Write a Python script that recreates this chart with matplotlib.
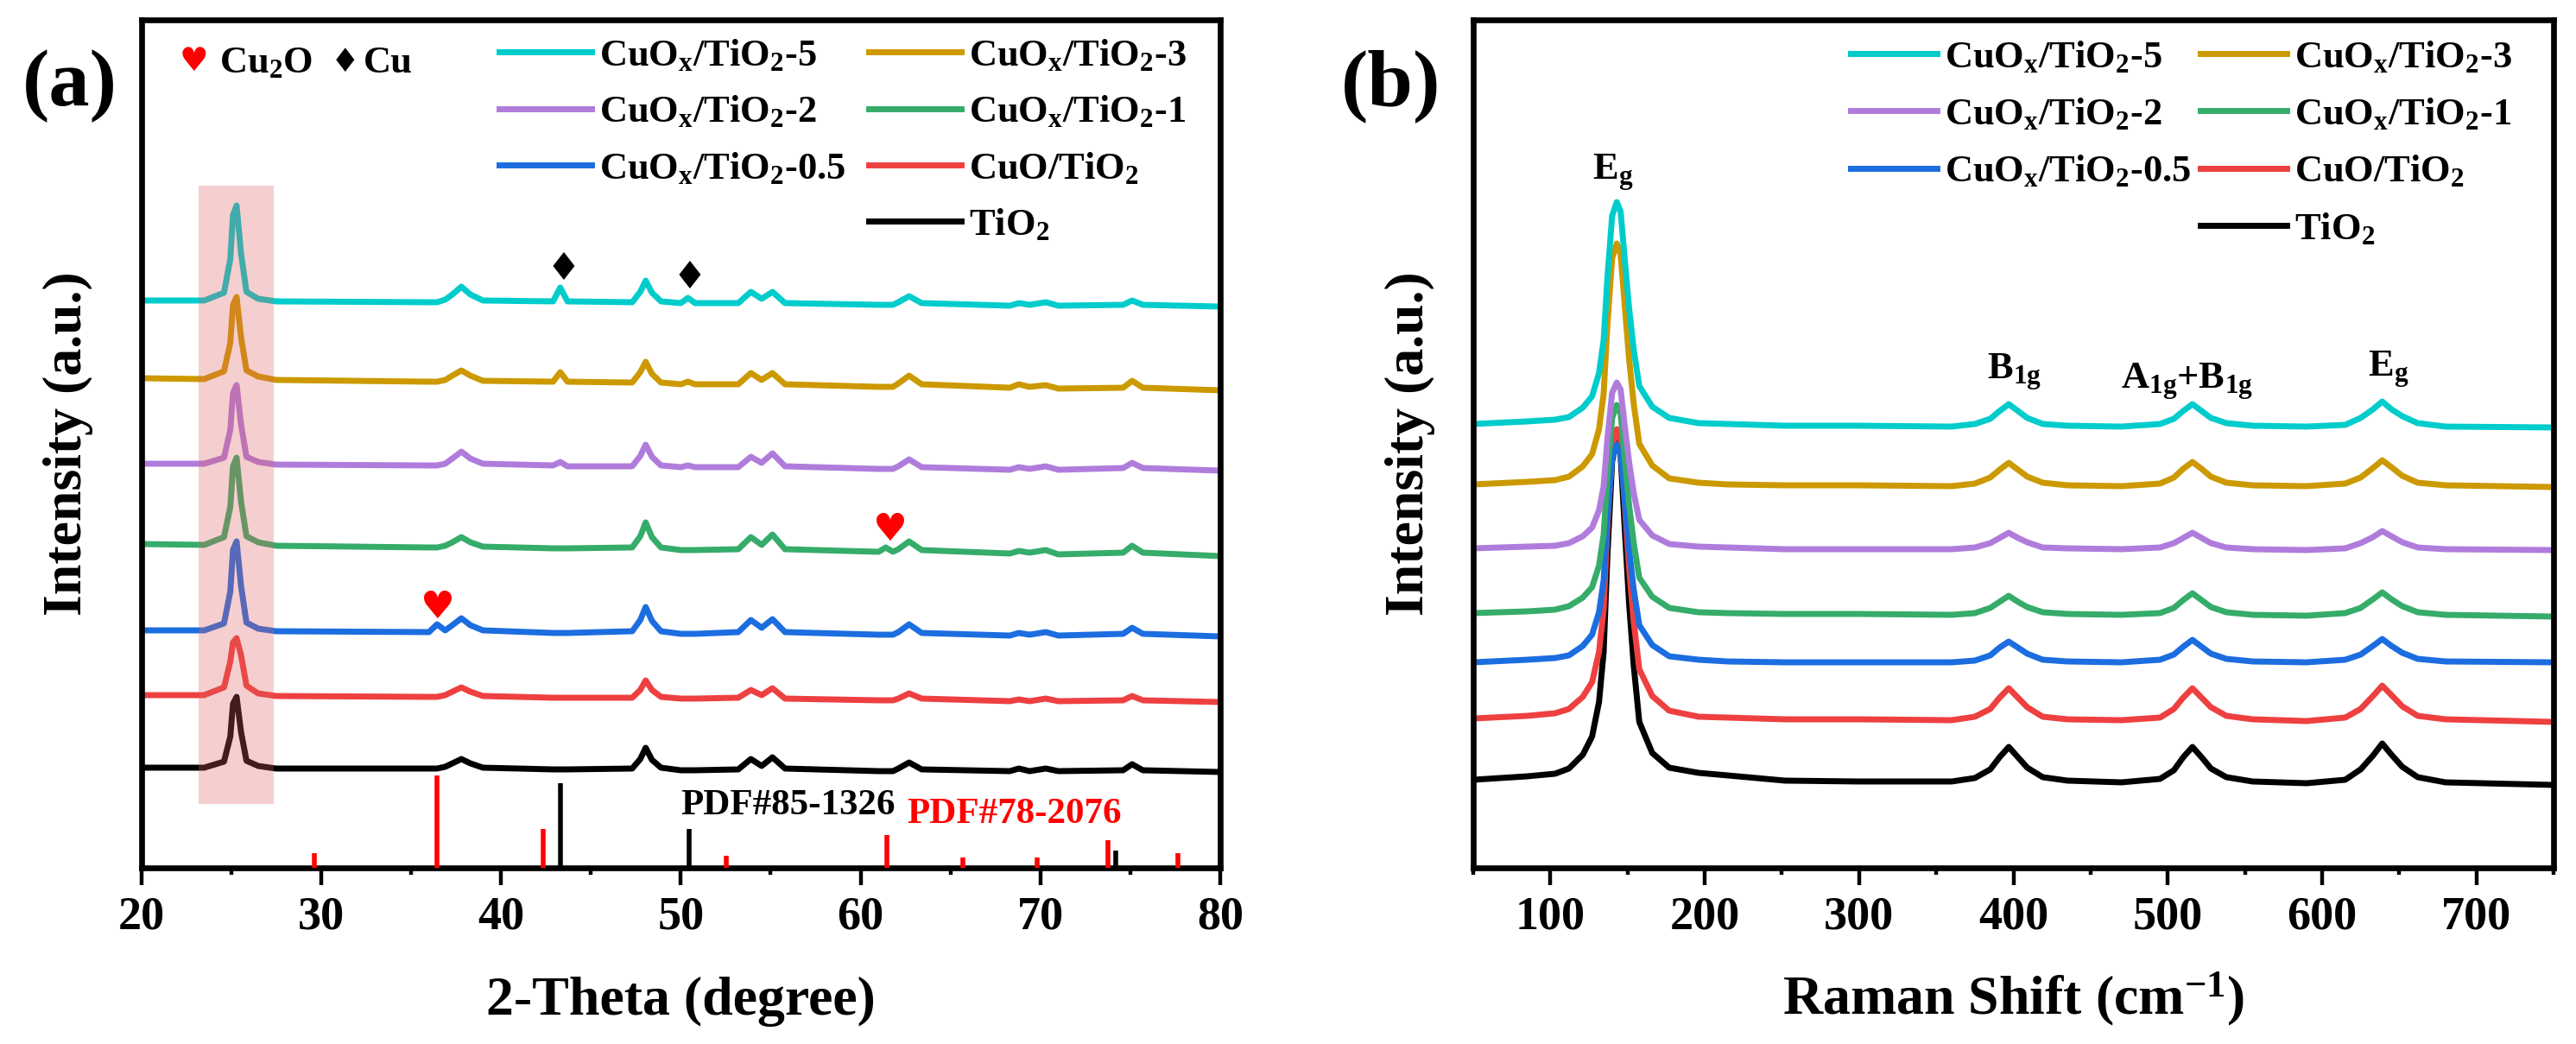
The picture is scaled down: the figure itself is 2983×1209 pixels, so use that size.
import matplotlib
matplotlib.use('Agg')
import matplotlib.pyplot as plt
from matplotlib.ticker import MultipleLocator
from matplotlib.patches import Rectangle
from matplotlib.lines import Line2D

plt.rcParams['font.family'] = ['Liberation Serif', 'DejaVu Sans']
plt.rcParams['font.weight'] = 'bold'
plt.rcParams['mathtext.fontset'] = 'custom'
plt.rcParams['mathtext.rm'] = 'Liberation Serif:bold'
plt.rcParams['mathtext.it'] = 'Liberation Serif:italic:bold'
plt.rcParams['mathtext.bf'] = 'Liberation Serif:bold'

# ---------------- data ----------------
labels = [r'$\mathrm{CuO_x/TiO_2}$-5', r'$\mathrm{CuO_x/TiO_2}$-3', r'$\mathrm{CuO_x/TiO_2}$-2',
          r'$\mathrm{CuO_x/TiO_2}$-1', r'$\mathrm{CuO_x/TiO_2}$-0.5', r'$\mathrm{CuO/TiO_2}$',
          r'$\mathrm{TiO_2}$']
colors = ['#00CCCC', '#CC9900', '#B07CDC', '#36AC6A', '#1C6DDF', '#EE4040', '#000000']

# XRD (2-theta, degree) - stacked intensities (a.u.)
xrd_theta = [20, 23.5, 24.6, 24.95, 25.1, 25.3, 25.55, 25.85, 26.5, 27.5, 36.0, 36.45, 36.9, 37.3,
             37.8, 38.3, 39.0, 42.9, 43.3, 43.7, 47.3, 47.75, 48.05, 48.4, 48.9, 50.0, 50.4, 50.8,
             53.2, 53.9, 54.5, 55.1, 55.8, 61.0, 61.4, 61.8, 62.1, 62.7, 63.4, 68.3, 68.8, 69.4,
             70.3, 71.0, 74.6, 75.1, 75.7, 80]
xrd_cuox5 = [657, 657, 666, 705, 756, 767, 711, 667, 659, 656, 655, 655, 658, 664, 673, 664, 657,
             656, 672, 656, 655, 667, 680, 666, 656, 654, 660, 654, 654, 667, 659, 667, 654,
             652, 652, 652, 655, 662, 654, 651, 654, 652, 655, 651, 652, 657, 652, 650]
xrd_cuox3 = [567, 566, 575, 608, 652, 661, 614, 576, 569, 565, 563, 563, 565, 570, 576, 570, 564,
             563, 574, 563, 562, 574, 586, 572, 562, 560, 563, 560, 560, 573, 565, 573, 560,
             557, 557, 557, 561, 570, 560, 556, 560, 557, 559, 555, 556, 564, 556, 553]
xrd_cuox2 = [468, 468, 475, 507, 550, 559, 513, 476, 470, 467, 466, 466, 468, 474, 482, 474, 468,
             466, 470, 465, 465, 477, 490, 476, 466, 464, 466, 464, 464, 476, 469, 480, 465,
             462, 462, 462, 465, 473, 464, 461, 464, 462, 465, 461, 463, 469, 463, 460]
xrd_cuox1 = [375, 374, 383, 418, 465, 475, 424, 384, 377, 373, 371, 371, 373, 377, 383, 377, 372,
             370, 370, 370, 371, 384, 400, 383, 371, 368, 368, 368, 369, 383, 374, 386, 369,
             366, 371, 366, 369, 378, 368, 364, 367, 365, 368, 363, 365, 373, 365, 361]
xrd_cuox05 = [275, 275, 283, 320, 368, 378, 326, 284, 277, 274, 273, 282, 275, 281, 289, 281, 275,
              272, 272, 272, 274, 287, 302, 286, 274, 271, 271, 271, 273, 287, 278, 288, 273,
              270, 270, 270, 273, 282, 272, 269, 272, 270, 273, 269, 271, 278, 271, 268]
xrd_cuo = [200, 200, 209, 239, 261, 266, 246, 211, 202, 199, 198, 198, 200, 204, 209, 204, 199,
           197, 197, 197, 197, 206, 217, 206, 198, 196, 196, 196, 197, 206, 200, 208, 196,
           194, 194, 194, 196, 202, 196, 193, 195, 193, 196, 193, 194, 199, 194, 192]
xrd_tio2 = [116, 116, 123, 152, 190, 198, 157, 124, 118, 115, 115, 115, 117, 121, 126, 121, 116,
            114, 114, 114, 115, 126, 139, 125, 116, 113, 113, 113, 114, 126, 118, 128, 115,
            112, 112, 112, 115, 122, 114, 112, 115, 112, 115, 112, 113, 120, 113, 111]
xrd_series = [xrd_cuox5, xrd_cuox3, xrd_cuox2, xrd_cuox1, xrd_cuox05, xrd_cuo, xrd_tio2]

# reference patterns
cu2o_pos = [29.6, 36.45, 42.35, 52.55, 61.45, 65.7, 69.8, 73.75, 77.65]   # PDF#78-2076
cu2o_int = [17, 107, 45, 14, 38, 12, 12, 32, 17]
cu_pos = [43.3, 50.45, 74.2]                                                # PDF#85-1326
cu_int = [98, 45, 20]

# phase markers on curves
heart_pos = [(36.42, 302), (61.6, 391)]
diamond_pos = [(43.46, 694), (50.51, 684)]
highlight_x = (23.2, 27.35)
highlight_y = (74, 790)

# Raman shift (cm-1) - stacked intensities (a.u.)
raman_shift = [50, 85, 103, 112, 121, 127, 131.5, 134.5, 137, 140, 143, 145.5, 148.3, 151, 154,
               157.6, 166, 177, 196, 215, 252, 300, 360, 375, 385, 391, 397, 403, 409, 419, 435,
               470, 495, 504, 510, 516, 522, 528, 538, 555, 590, 615, 625, 633, 639, 645, 652,
               662, 680, 750]
ram_cuox5 = [514, 517, 519, 522, 533, 546, 573, 611, 685, 755, 771, 760, 702, 648, 600, 558, 534,
             521, 515, 514, 512, 512, 511, 514, 520, 529, 537, 529, 521, 514, 512, 511, 514, 520,
             529, 537, 529, 521, 515, 512, 511, 513, 521, 531, 540, 531, 523, 515, 511, 510]
ram_cuox3 = [444, 447, 449, 453, 465, 479, 508, 549, 630, 706, 723, 711, 648, 589, 537, 491, 466,
             451, 446, 444, 443, 443, 442, 445, 452, 461, 469, 461, 453, 446, 443, 442, 445, 452,
             462, 470, 462, 453, 446, 443, 442, 445, 452, 463, 472, 464, 454, 446, 443, 441]
ram_cuox2 = [370, 372, 373, 376, 384, 394, 414, 442, 498, 550, 562, 554, 510, 470, 434, 403, 385,
             375, 372, 371, 369, 369, 369, 371, 376, 382, 388, 382, 377, 371, 370, 369, 371, 376,
             382, 388, 382, 376, 371, 369, 368, 370, 376, 383, 390, 384, 377, 371, 369, 368]
ram_cuox1 = [295, 297, 299, 303, 313, 325, 350, 386, 456, 521, 536, 526, 471, 420, 376, 336, 314,
             301, 296, 295, 294, 294, 293, 295, 301, 308, 315, 308, 302, 296, 294, 293, 295, 301,
             310, 318, 310, 302, 296, 293, 292, 295, 301, 311, 319, 311, 303, 296, 293, 291]
ram_cuox05 = [238, 241, 243, 246, 257, 270, 296, 333, 406, 474, 490, 479, 422, 369, 322, 281, 258,
              245, 241, 239, 238, 238, 238, 240, 246, 255, 262, 255, 248, 241, 239, 238, 241, 247,
              256, 264, 256, 248, 242, 239, 238, 241, 247, 257, 265, 257, 249, 242, 239, 238]
ram_cuo = [173, 176, 179, 184, 198, 215, 250, 299, 396, 487, 508, 494, 418, 347, 285, 230, 199,
           182, 175, 174, 172, 172, 171, 175, 184, 197, 208, 197, 186, 175, 172, 171, 174, 184,
           197, 208, 197, 186, 176, 172, 170, 174, 184, 199, 211, 200, 187, 176, 172, 169]
ram_tio2 = [102, 106, 109, 115, 131, 152, 192, 250, 364, 471, 495, 478, 389, 306, 234, 169, 133,
            116, 110, 107, 101, 100, 100, 104, 114, 128, 140, 128, 116, 105, 101, 99, 103, 113,
            128, 140, 128, 115, 105, 100, 98, 102, 114, 130, 144, 131, 117, 105, 99, 96]
ram_series = [ram_cuox5, ram_cuox3, ram_cuox2, ram_cuox1, ram_cuox05, ram_cuo, ram_tio2]

raman_modes = [(r'$\mathrm{E_g}$', 140.7, 805), (r'$\mathrm{B_{1g}}$', 400.3, 574),
               (r'$\mathrm{A_{1g}}$+$\mathrm{B_{1g}}$', 512.2, 563), (r'$\mathrm{E_g}$', 643.2, 577)]

# ---------------- figure ----------------
W, H, DPI = 2983, 1209, 200
fig = plt.figure(figsize=(W / DPI, H / DPI), dpi=DPI)
axA = fig.add_axes([163.6 / W, 1 - 1005 / H, (1413 - 163.6) / W, 982 / H])
axB = fig.add_axes([1706 / W, 1 - 1005 / H, (2957 - 1706) / W, 982 / H])

LW = 2.5
SPINE = 2.4
TICKFS = 19.5
LABELFS = 23
LEGFS = 16
bold = dict(family=['Liberation Serif', 'DejaVu Sans'], weight='bold')


def style(ax, xlim, major, minor, xlabel, xpad, ypad):
    ax.set_xlim(*xlim)
    ax.set_ylim(0, 982)
    ax.set_yticks([])
    ax.xaxis.set_major_locator(MultipleLocator(major))
    ax.xaxis.set_minor_locator(MultipleLocator(minor))
    ax.tick_params(axis='x', which='major', direction='out', length=7.2, width=1.6,
                   labelsize=TICKFS, pad=4.5)
    ax.tick_params(axis='x', which='minor', direction='out', length=3.0, width=1.6)
    for s in ax.spines.values():
        s.set_linewidth(SPINE)
    for t in ax.get_xticklabels():
        t.set_fontweight('bold')
    ax.set_xlabel(xlabel, fontsize=LABELFS, fontweight='bold', labelpad=xpad)
    ax.set_ylabel('Intensity (a.u.)', fontsize=LABELFS, fontweight='bold', labelpad=ypad)


def add_legend(ax, lines, x0, y0, hl, cs, ls):
    blank = Line2D([], [], color='none')
    hs = [lines[0], lines[2], lines[4], blank, lines[1], lines[3], lines[5], lines[6]]
    ls_ = [labels[0], labels[2], labels[4], '', labels[1], labels[3], labels[5], labels[6]]
    ax.legend(hs, ls_, ncol=2, loc='upper left', bbox_to_anchor=(x0, y0), frameon=False,
              borderpad=0, borderaxespad=0, handlelength=hl, handletextpad=0.2,
              columnspacing=cs, labelspacing=ls,
              prop={'family': 'Liberation Serif', 'weight': 'bold', 'size': LEGFS})


# ----- panel (a) -----
linesA = []
for ys, c, lab in zip(xrd_series, colors, labels):
    ln, = axA.plot(xrd_theta, ys, color=c, lw=LW, label=lab, solid_joinstyle='round')
    linesA.append(ln)
axA.vlines(cu2o_pos, 0, cu2o_int, colors='#FF0000', lw=2.0, zorder=3)
axA.vlines(cu_pos, 0, cu_int, colors='#000000', lw=2.0, zorder=3)
axA.add_patch(Rectangle((highlight_x[0], highlight_y[0]), highlight_x[1] - highlight_x[0],
                        highlight_y[1] - highlight_y[0], facecolor='#E06060', alpha=0.3,
                        edgecolor='none', zorder=5))
for (hx, hy) in heart_pos:
    axA.text(hx, hy, '\u2665', color='#FF0000', fontsize=16, family='DejaVu Sans',
             ha='center', va='center')
for (dx, dy) in diamond_pos:
    axA.text(dx, dy, '\u2666', color='#000000', fontsize=16, family='DejaVu Sans',
             ha='center', va='center')
# phase key
axA.text(22.93, 933, '\u2665', color='#FF0000', fontsize=13.5, family='DejaVu Sans',
         ha='center', va='center')
axA.text(24.34, 932, r'$\mathrm{Cu_2O}$', fontsize=LEGFS, ha='left', va='center', **bold)
axA.text(31.35, 932, '\u2666', color='#000000', fontsize=13.5, family='DejaVu Sans',
         ha='center', va='center')
axA.text(32.36, 932, 'Cu', fontsize=LEGFS, ha='left', va='center', **bold)
axA.text(50.0, 72, 'PDF#85-1326', fontsize=15.5, color='#000000', ha='left', va='center', **bold)
axA.text(62.58, 62, 'PDF#78-2076', fontsize=15.5, color='#FF0000', ha='left', va='center', **bold)
style(axA, (20, 80), 10, 5, '2-Theta (degree)', 15.5, 20)
add_legend(axA, linesA, 0.3317, 0.979, 2.41, 0.6, 0.55)

# ----- panel (b) -----
linesB = [None] * 7
for i in range(6, -1, -1):
    ln, = axB.plot(raman_shift, ram_series[i], color=colors[i], lw=LW, label=labels[i],
                   solid_joinstyle='round')
    linesB[i] = ln
for txt, mx, my in raman_modes:
    axB.text(mx, my, txt, fontsize=LEGFS, ha='center', va='center', **bold)
style(axB, (50, 750), 100, 50, r'Raman Shift (cm$^{\mathrm{-1}}$)', 13, 16)
add_legend(axB, linesB, 0.3493, 0.977, 2.25, 0.25, 0.57)

fig.text(81 / W, 1 - 100 / H, '(a)', fontsize=34, ha='center', va='center', **bold)
fig.text(1611 / W, 1 - 100 / H, '(b)', fontsize=34, ha='center', va='center', **bold)

fig.savefig('out.png', dpi=DPI)
